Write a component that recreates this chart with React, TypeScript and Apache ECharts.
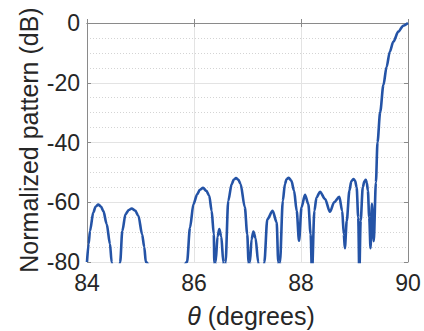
import React, { useEffect, useRef } from "react";
import * as echarts from "echarts";

const thetaDeg = [
  84.0, 84.03, 84.056, 84.118, 84.16, 84.21, 84.26, 84.305, 84.368, 84.43, 84.46, 84.54,
  84.62, 84.66, 84.72, 84.78, 84.835, 84.9, 84.96, 85.03, 85.07, 85.1, 85.5,
  85.87, 85.925, 85.99, 86.06, 86.11, 86.17, 86.23, 86.285, 86.33, 86.37, 86.38, 86.395,
  86.405, 86.44, 86.473, 86.51, 86.548, 86.565,
  86.59, 86.64, 86.705, 86.745, 86.785, 86.83, 86.87, 86.95, 86.995, 87.02, 87.035,
  87.047, 87.075, 87.11, 87.15, 87.2, 87.26,
  87.315, 87.37, 87.47, 87.545, 87.575, 87.59,
  87.607, 87.66, 87.7, 87.73, 87.77, 87.82, 87.87, 87.92, 87.963,
  88.01, 88.075, 88.137, 88.18, 88.205,
  88.25, 88.29, 88.355, 88.45, 88.54, 88.62, 88.716, 88.77, 88.8, 88.82,
  88.855, 88.905, 88.94, 88.98, 89.01, 89.04, 89.07, 89.09,
  89.115, 89.155, 89.185, 89.21, 89.23, 89.25, 89.275, 89.3,
  89.325, 89.36, 89.4, 89.43, 89.48, 89.54, 89.6, 89.66, 89.725, 89.82, 89.91, 90.0,
];

const patternDb = [
  -80, -74, -69.6, -63.4, -61.5, -60.8, -61.4, -62.9, -67.3, -74, -80, -95,
  -80, -69.6, -64, -62.6, -62.1, -62.8, -64.5, -70.7, -75, -80, -100,
  -80, -68.5, -60.6, -57.3, -55.8, -55.2, -56.2, -57.8, -62.9, -70.7, -80, -95,
  -80, -71.5, -69, -71.5, -80, -95,
  -80, -59.5, -53.9, -52.4, -51.9, -52.5, -53.9, -61.7, -70.7, -80, -95,
  -80, -72.5, -69.8, -72, -80, -95,
  -80, -65.7, -62.9, -66.7, -80, -95,
  -80, -59.5, -53.9, -52.3, -51.8, -52.8, -56.1, -62.9, -72.9,
  -61.7, -57.5, -60.6, -70.7, -84,
  -62.9, -58.4, -56.5, -58.9, -63.2, -60, -58.2, -62.9, -70.7, -75.4,
  -66.2, -56.1, -53, -52.2, -52.7, -55, -65.1, -84,
  -66.2, -55, -53, -52.5, -53.5, -56.1, -65.1, -75.4,
  -60.5, -73, -53.3, -39.9, -29.8, -20.8, -14.7, -9.6, -6.3, -2.9, -0.9, 0,
];

const xTicks = [84, 86, 88, 90];
const yTicks = [-80, -60, -40, -20, 0];

const FONT = "'Liberation Sans', Arial, Helvetica, sans-serif";
const TEXT = "#262626";
const AXIS = "#8a8a8a";

export default function App() {
  const ref = useRef<HTMLDivElement>(null);
  useEffect(() => {
    if (!ref.current) return;
    const chart = echarts.init(ref.current, undefined, { renderer: "svg" });
    const data = thetaDeg.map((t, i) => [t, patternDb[i]]);
    const xMin = xTicks[0];
    const xMax = xTicks[xTicks.length - 1];
    const yMin = yTicks[0];
    const yMax = yTicks[yTicks.length - 1];
    const boxAxisCommon = {
      axisLine: { show: true, lineStyle: { color: AXIS, width: 1 } },
      axisTick: { show: true, inside: true, length: 4, lineStyle: { color: AXIS } },
    };
    chart.setOption({
      animation: false,
      backgroundColor: "#ffffff",
      grid: { left: 87, right: 16, top: 23, bottom: 69, containLabel: false },
      xAxis: [
        {
          type: "value",
          min: xMin,
          max: xMax,
          interval: 2,
          ...boxAxisCommon,
          axisLabel: { color: TEXT, fontSize: 23, fontFamily: FONT, margin: 9 },
          splitLine: { show: true, lineStyle: { color: "#e3e3e3", width: 1 } },
        },
        {
          type: "value",
          position: "top",
          min: xMin,
          max: xMax,
          interval: 2,
          ...boxAxisCommon,
          axisLabel: { show: false },
          splitLine: { show: false },
        },
      ],
      yAxis: [
        {
          type: "value",
          min: yMin,
          max: yMax,
          interval: 20,
          ...boxAxisCommon,
          axisLabel: { color: TEXT, fontSize: 23, fontFamily: FONT, margin: 7 },
          splitLine: { show: true, lineStyle: { color: "#e3e3e3", width: 1 } },
          minorTick: { show: false, splitNumber: 4 },
          minorSplitLine: { show: true, lineStyle: { color: "#d4d4d4", type: [1, 2], width: 1 } },
        },
        {
          type: "value",
          position: "right",
          min: yMin,
          max: yMax,
          interval: 20,
          ...boxAxisCommon,
          axisLabel: { show: false },
          splitLine: { show: false },
        },
      ],
      series: [
        {
          type: "line",
          data,
          showSymbol: false,
          symbol: "none",
          clip: true,
          smooth: 0.3,
          smoothMonotone: "x",
          lineStyle: { color: "#2453a6", width: 2.6 },
          z: 5,
        },
      ],
      graphic: [
        {
          type: "text",
          x: 29,
          y: 140,
          rotation: Math.PI / 2,
          style: {
            text: "Normalized pattern (dB)",
            font: `25px ${FONT}`,
            fill: TEXT,
            align: "center",
            verticalAlign: "middle",
          },
        },
        {
          type: "text",
          x: 251,
          y: 316,
          style: {
            text: "{i|θ} (degrees)",
            font: `25px ${FONT}`,
            fill: TEXT,
            align: "center",
            verticalAlign: "middle",
            rich: {
              i: { fontStyle: "italic", fontSize: 25, fontFamily: FONT, fill: TEXT },
            },
          },
        },
      ],
    });
    return () => chart.dispose();
  }, []);
  return <div ref={ref} style={{ width: 424, height: 331, position: "absolute", left: 0, top: 0 }} />;
}
